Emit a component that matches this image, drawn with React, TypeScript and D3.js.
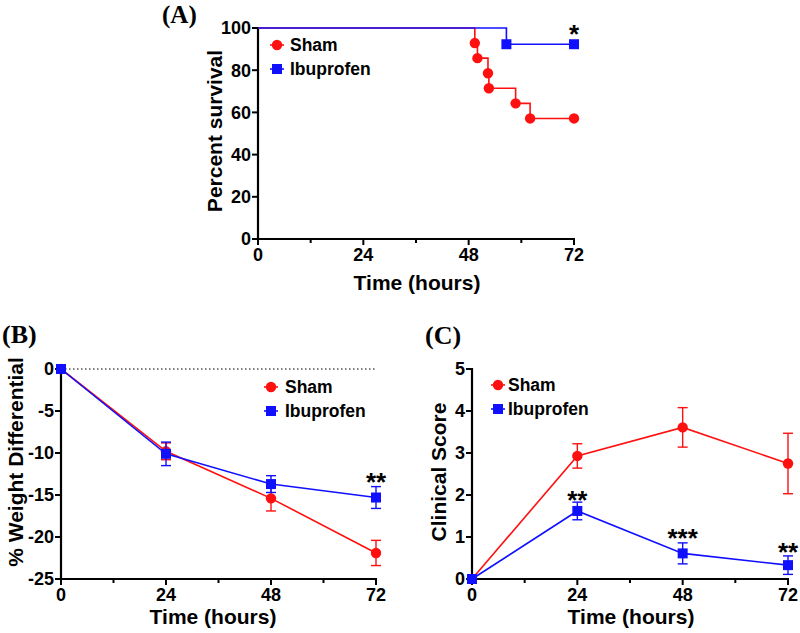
import React from "react";
import * as d3 from "d3";

// ---------- Data ----------
const hours = [0, 24, 48, 72];
const xTicks = [0, 24, 48, 72];
const xMinorTicks = [12, 36, 60];

// Panel A: survival (Kaplan-Meier steps)
const survShamTime = [0, 49.4, 50.0, 52.4, 52.6, 58.7, 62.0, 72];
const survShamPct = [100, 92.86, 85.71, 78.57, 71.43, 64.29, 57.14, 57.14];
const survIbuTime = [0, 56.6, 72];
const survIbuPct = [100, 92.31, 92.31];
const survYTicks = [0, 20, 40, 60, 80, 100];

// Panel B: weight differential
const weightSham = [0, -9.8, -15.4, -21.9];
const weightShamErr = [0, 1.0, 1.5, 1.5];
const weightIbu = [0, -10.1, -13.7, -15.3];
const weightIbuErr = [0, 1.4, 1.0, 1.3];
const weightYTicks = [0, -5, -10, -15, -20, -25];

// Panel C: clinical score
const scoreSham = [0, 2.93, 3.61, 2.75];
const scoreShamErr = [0, 0.29, 0.47, 0.72];
const scoreIbu = [0, 1.62, 0.61, 0.33];
const scoreIbuErr = [0, 0.21, 0.25, 0.22];
const scoreYTicks = [0, 1, 2, 3, 4, 5];

const seriesNames = ["Sham", "Ibuprofen"];
const RED = "#ff1010";
const BLUE = "#1010ff";
const SANS = "'Liberation Sans', Arial, sans-serif";
const SERIF = "'Liberation Serif', 'Times New Roman', serif";

type Sc = d3.ScaleLinear<number, number>;

function Marker({ x, y, kind, color }: { x: number; y: number; kind: "circle" | "square"; color: string }) {
  return kind === "circle" ? (
    <circle cx={x} cy={y} r={5.2} fill={color} />
  ) : (
    <rect x={x - 5} y={y - 5} width={10} height={10} fill={color} />
  );
}

function Axes({ x, y, yTicks, yDomainMin }: { x: Sc; y: Sc; yTicks: number[]; yDomainMin: number }) {
  const x0 = x.range()[0];
  const x1 = x.range()[1];
  const yb = y(yDomainMin);
  const yt = y.range()[1];
  return (
    <g fontFamily={SANS} fontWeight="bold" fontSize={18} fill="#000">
      <line x1={x0} x2={x0} y1={yt - 1} y2={yb + 1} stroke="#000" strokeWidth={2.2} />
      <line x1={x0 - 1} x2={x1 + 1} y1={yb} y2={yb} stroke="#000" strokeWidth={2.2} />
      {yTicks.map((t) => (
        <g key={"y" + t}>
          <line x1={x0 - 6} x2={x0} y1={y(t)} y2={y(t)} stroke="#000" strokeWidth={2} />
          <text x={x0 - 7} y={y(t)} dy="0.36em" textAnchor="end">
            {String(t)}
          </text>
        </g>
      ))}
      {xTicks.map((t) => (
        <g key={"x" + t}>
          <line x1={x(t)} x2={x(t)} y1={yb} y2={yb + 6} stroke="#000" strokeWidth={2} />
          <text x={x(t)} y={yb + 22} textAnchor="middle">
            {String(t)}
          </text>
        </g>
      ))}
      {xMinorTicks.map((t) => (
        <line key={"m" + t} x1={x(t)} x2={x(t)} y1={yb} y2={yb + 4} stroke="#000" strokeWidth={2} />
      ))}
    </g>
  );
}

function Legend({ x, y, tx }: { x: number; y: number; tx: number }) {
  const rows = [
    { name: seriesNames[0], color: RED, kind: "circle" as const },
    { name: seriesNames[1], color: BLUE, kind: "square" as const },
  ];
  return (
    <g fontFamily={SANS} fontWeight="bold" fontSize={17.5}>
      {rows.map((r, i) => (
        <g key={r.name}>
          <line x1={x - 7} x2={x + 7} y1={y + i * 24} y2={y + i * 24} stroke={r.color} strokeWidth={1.6} />
          <Marker x={x} y={y + i * 24} kind={r.kind} color={r.color} />
          <text x={tx} y={y + i * 24} dy="0.36em" fill="#000">
            {r.name}
          </text>
        </g>
      ))}
    </g>
  );
}

function Series({ x, y, vals, errs, color, kind }: { x: Sc; y: Sc; vals: number[]; errs: number[]; color: string; kind: "circle" | "square" }) {
  const pts = hours.map((h, i) => [h, vals[i]] as [number, number]);
  const line = d3.line<[number, number]>().x((d) => x(d[0])).y((d) => y(d[1]));
  return (
    <g>
      <path d={line(pts) || ""} fill="none" stroke={color} strokeWidth={1.6} />
      {hours.map((h, i) =>
        errs[i] > 0 ? (
          <g key={"e" + i} stroke={color} strokeWidth={1.4}>
            <line x1={x(h)} x2={x(h)} y1={y(vals[i] - errs[i])} y2={y(vals[i] + errs[i])} />
            <line x1={x(h) - 5} x2={x(h) + 5} y1={y(vals[i] + errs[i])} y2={y(vals[i] + errs[i])} />
            <line x1={x(h) - 5} x2={x(h) + 5} y1={y(vals[i] - errs[i])} y2={y(vals[i] - errs[i])} />
          </g>
        ) : null
      )}
      {hours.map((h, i) => (
        <Marker key={"m" + i} x={x(h)} y={y(vals[i])} kind={kind} color={color} />
      ))}
    </g>
  );
}

function Survival({ x, y, times, pcts, color, kind }: { x: Sc; y: Sc; times: number[]; pcts: number[]; color: string; kind: "circle" | "square" }) {
  const pts = times.map((t, i) => [t, pcts[i]] as [number, number]);
  const line = d3
    .line<[number, number]>()
    .x((d) => x(d[0]))
    .y((d) => y(d[1]))
    .curve(d3.curveStepAfter);
  return (
    <g>
      <path d={line(pts) || ""} fill="none" stroke={color} strokeWidth={1.6} />
      {pts.slice(1).map((p, i) => (
        <Marker key={i} x={x(p[0])} y={y(p[1])} kind={kind} color={color} />
      ))}
    </g>
  );
}

function Stars({ x, y, text }: { x: number; y: number; text: string }) {
  return (
    <text x={x} y={y} textAnchor="middle" fontFamily={SANS} fontWeight="bold" fontSize={26} fill="#000">
      {text}
    </text>
  );
}

export default function App() {
  // Panel A scales
  const xA = d3.scaleLinear().domain([0, 72]).range([258, 574]);
  const yA = d3.scaleLinear().domain([0, 100]).range([239, 28]);
  // Panel B scales
  const xB = d3.scaleLinear().domain([0, 72]).range([61, 376]);
  const yB = d3.scaleLinear().domain([-25, 0]).range([579, 369]);
  // Panel C scales
  const xC = d3.scaleLinear().domain([0, 72]).range([472, 788]);
  const yC = d3.scaleLinear().domain([0, 5]).range([579, 369]);

  return (
    <svg
      width={800}
      height={633}
      viewBox="0 0 800 633"
      style={{ position: "absolute", left: 0, top: 0, background: "#fff" }}
    >
      <rect width={800} height={633} fill="#fff" />

      {/* ---------- Panel A ---------- */}
      <text x={162} y={23} fontFamily={SERIF} fontWeight="bold" fontSize={25}>(A)</text>
      <Axes x={xA} y={yA} yTicks={survYTicks} yDomainMin={0} />
      <Survival x={xA} y={yA} times={survShamTime} pcts={survShamPct} color={RED} kind="circle" />
      <Survival x={xA} y={yA} times={survIbuTime} pcts={survIbuPct} color={BLUE} kind="square" />
      <Legend x={277} y={45} tx={290} />
      <Stars x={xA(72)} y={43} text="*" />
      <text x={417} y={290} textAnchor="middle" fontFamily={SANS} fontWeight="bold" fontSize={21}>Time (hours)</text>
      <text transform="translate(222,131) rotate(-90)" textAnchor="middle" fontFamily={SANS} fontWeight="bold" fontSize={21}>Percent survival</text>

      {/* ---------- Panel B ---------- */}
      <text x={2} y={343} fontFamily={SERIF} fontWeight="bold" fontSize={26}>(B)</text>
      <line x1={xB(0)} x2={xB(72)} y1={yB(0)} y2={yB(0)} stroke="#000" strokeWidth={1.2} strokeDasharray="1.5,2.5" />
      <Axes x={xB} y={yB} yTicks={weightYTicks} yDomainMin={-25} />
      <Series x={xB} y={yB} vals={weightSham} errs={weightShamErr} color={RED} kind="circle" />
      <Series x={xB} y={yB} vals={weightIbu} errs={weightIbuErr} color={BLUE} kind="square" />
      <Legend x={271} y={387} tx={285} />
      <Stars x={xB(72)} y={491} text="**" />
      <text x={213} y={624} textAnchor="middle" fontFamily={SANS} fontWeight="bold" fontSize={21}>Time (hours)</text>
      <text transform="translate(23,462) rotate(-90)" textAnchor="middle" fontFamily={SANS} fontWeight="bold" fontSize={21}>% Weight Differential</text>

      {/* ---------- Panel C ---------- */}
      <text x={425} y={344} fontFamily={SERIF} fontWeight="bold" fontSize={26}>(C)</text>
      <Axes x={xC} y={yC} yTicks={scoreYTicks} yDomainMin={0} />
      <Series x={xC} y={yC} vals={scoreSham} errs={scoreShamErr} color={RED} kind="circle" />
      <Series x={xC} y={yC} vals={scoreIbu} errs={scoreIbuErr} color={BLUE} kind="square" />
      <Legend x={498} y={385} tx={508} />
      <Stars x={xC(24)} y={509} text="**" />
      <Stars x={xC(48)} y={547} text="***" />
      <Stars x={xC(72)} y={561} text="**" />
      <text x={631} y={624} textAnchor="middle" fontFamily={SANS} fontWeight="bold" fontSize={21}>Time (hours)</text>
      <text transform="translate(446,472) rotate(-90)" textAnchor="middle" fontFamily={SANS} fontWeight="bold" fontSize={21}>Clinical Score</text>
    </svg>
  );
}
